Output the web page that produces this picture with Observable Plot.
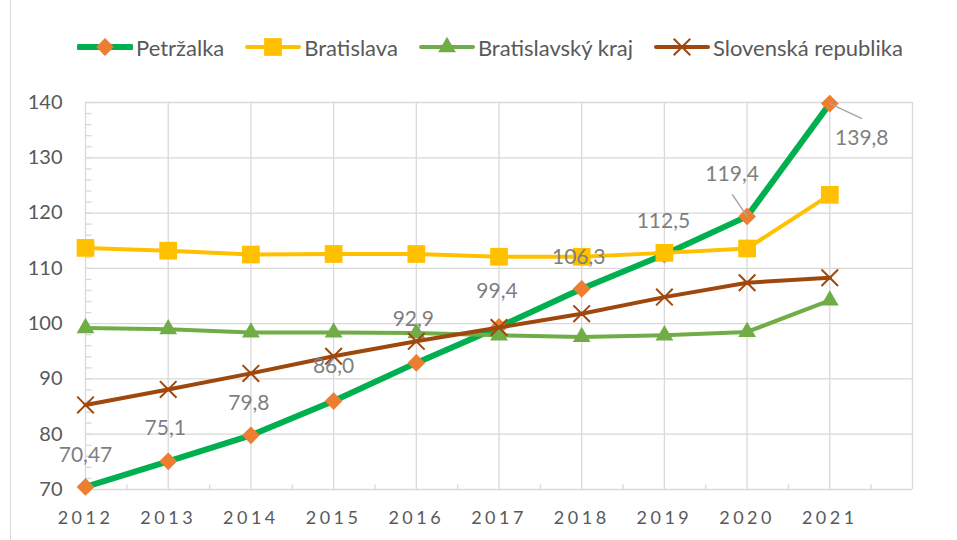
<!DOCTYPE html>
<html><head><meta charset="utf-8">
<script src="https://cdn.jsdelivr.net/npm/d3@7"></script>
<script src="https://cdn.jsdelivr.net/npm/@observablehq/plot@0.6"></script>
<style>
body{margin:0;background:#fff;font-family:Lato,sans-serif;}
#wrap{position:relative;width:957px;height:540px;overflow:hidden;background:#fff;}
#border{position:absolute;left:10px;top:0;width:0;height:540px;border-left:1.5px solid #d9d9d9;}
#legend{position:absolute;left:77px;top:35px;height:24px;display:flex;align-items:center;font-size:22px;color:#595959;white-space:nowrap;}
.item{display:flex;align-items:center;margin-right:21px;}
.item svg{margin-right:3px;}
#chart{position:absolute;left:0;top:80px;}
g[aria-label="x-axis tick label"] text{letter-spacing:3.5px;}
</style></head><body>
<div id="wrap"><div id="border"></div><div id="legend"></div><div id="chart"></div></div>
<script>
// ---- data ----
const years = [2012, 2013, 2014, 2015, 2016, 2017, 2018, 2019, 2020, 2021];
const seriesNames = ["Petržalka", "Bratislava", "Bratislavský kraj", "Slovenská republika"];
const petrzalka = [70.47, 75.1, 79.8, 86.0, 92.9, 99.4, 106.3, 112.5, 119.4, 139.8];
const bratislava = [113.7, 113.2, 112.5, 112.6, 112.6, 112.1, 112.1, 112.8, 113.6, 123.3];
const bratislavskyKraj = [99.2, 99.0, 98.4, 98.4, 98.3, 97.9, 97.6, 97.9, 98.5, 104.2];
const slovenskaRepublika = [85.3, 88.1, 91.0, 94.1, 96.8, 99.3, 101.8, 104.8, 107.4, 108.3];
const petrzalkaLabels = ["70,47", "75,1", "79,8", "86,0", "92,9", "99,4", "106,3", "112,5", "119,4", "139,8"];
const yTicks = [70, 80, 90, 100, 110, 120, 130, 140];

// ---- styling / layout ----
const colors = {line: ["#00B050", "#FFC000", "#70AD47", "#9E480E"], marker: ["#ED7D31", "#FFC000", "#70AD47", "#9E480E"]};
const lineWidths = [6, 4, 4, 4];
const labelOffsets = [[0, -32], [-3, -33], [-2, -32], [0, -35], [-3, -44], [-2, -36], [-3, -32], [-1, -33], [-15, -42], [32, 35]];
const leaders = {8: {length: 26, rotate: -34}, 9: {length: 35, rotate: 115}};

const toRows = (vals) => years.map((year, i) => ({year, value: vals[i], i}));
const allSeries = [petrzalka, bratislava, bratislavskyKraj, slovenskaRepublika].map(toRows);

const grid = "#d9d9d9";
const minorY = d3.range(yTicks[0], yTicks[yTicks.length - 1] + 1, 2);
const minorX = years.map(y => y + 0.5);
const tickRight = {draw(ctx) { ctx.moveTo(0, 0); ctx.lineTo(6, 0); }};
const tickUp = {draw(ctx) { ctx.moveTo(0, 0); ctx.lineTo(0, -5); }};
const lineShape = {draw(ctx, l) { ctx.moveTo(0, 0); ctx.lineTo(0, -l); }};

const markerOpts = [
  {symbol: "diamond2", r: 8, fill: colors.marker[0], stroke: "none"},
  {symbol: "square", r: 10, fill: colors.marker[1], stroke: "none"},
  {symbol: "triangle", r: 6.6, fill: colors.marker[2], stroke: "none"},
  {symbol: "times", r: 7.6, fill: "none", stroke: colors.marker[3], strokeWidth: 2}
];

const marks = [
  Plot.gridX(d3.range(years[0], years[years.length - 1] + 2), {stroke: grid, strokeOpacity: 1, strokeWidth: 1.3}),
  Plot.gridY(yTicks.slice(1), {stroke: grid, strokeOpacity: 1, strokeWidth: 1.3}),
  Plot.ruleY([yTicks[0]], {stroke: grid, strokeWidth: 1.3}),
  Plot.dot(minorY, {x: () => years[0], y: d => d, symbol: tickRight, fill: "none", stroke: grid, strokeWidth: 1.3}),
  Plot.dot(minorX, {x: d => d, y: () => yTicks[0], symbol: tickUp, fill: "none", stroke: grid, strokeWidth: 1.3}),
  Plot.axisX(years, {tickSize: 0, tickPadding: 22, fontSize: 18, color: "#595959", label: null, tickFormat: d => String(d)}),
  Plot.axisY(yTicks, {tickSize: 0, tickPadding: 23, fontSize: 20, color: "#595959", label: null})
];

allSeries.forEach((rows, k) => {
  marks.push(Plot.line(rows, {x: "year", y: "value", stroke: colors.line[k], strokeWidth: lineWidths[k], strokeLinejoin: "round", strokeLinecap: "round"}));
  marks.push(Plot.dot(rows, {x: "year", y: "value", ...markerOpts[k]}));
});

const pRows = allSeries[0];
Object.entries(leaders).forEach(([i, o]) => {
  marks.push(Plot.vector([pRows[+i]], {x: "year", y: "value", length: o.length, rotate: o.rotate, anchor: "start", shape: lineShape, stroke: "#A6A6A6", strokeWidth: 1.5}));
});
pRows.forEach((row, i) => {
  marks.push(Plot.text([row], {x: "year", y: "value", text: d => petrzalkaLabels[d.i], dx: labelOffsets[i][0], dy: labelOffsets[i][1], fontSize: 21, fill: "#7F7F7F"}));
});

const chart = Plot.plot({
  width: 957, height: 460,
  marginTop: 22, marginBottom: 51, marginLeft: 85, marginRight: 45,
  x: {domain: [years[0], years[years.length - 1] + 1]},
  y: {domain: [yTicks[0], yTicks[yTicks.length - 1]]},
  style: {fontFamily: "Lato, sans-serif", background: "transparent", overflow: "visible"},
  marks
});
document.getElementById("chart").appendChild(chart);

// ---- legend ----
const legend = d3.select("#legend");
seriesNames.forEach((name, k) => {
  const item = legend.append("div").attr("class", "item");
  const svg = item.append("svg").attr("width", 56).attr("height", 24);
  svg.append("line").attr("x1", 2).attr("x2", 54).attr("y1", 12).attr("y2", 12)
    .attr("stroke", colors.line[k]).attr("stroke-width", lineWidths[k]).attr("stroke-linecap", "round");
  const sym = {diamond2: d3.symbolDiamond2, square: d3.symbolSquare, triangle: d3.symbolTriangle, times: d3.symbolTimes}[markerOpts[k].symbol];
  const size = Math.PI * markerOpts[k].r * markerOpts[k].r;
  svg.append("path").attr("transform", "translate(28,12)").attr("d", d3.symbol(sym, size)())
    .attr("fill", markerOpts[k].fill).attr("stroke", markerOpts[k].stroke).attr("stroke-width", markerOpts[k].strokeWidth || 0);
  item.append("span").text(name);
});
</script>
</body></html>
